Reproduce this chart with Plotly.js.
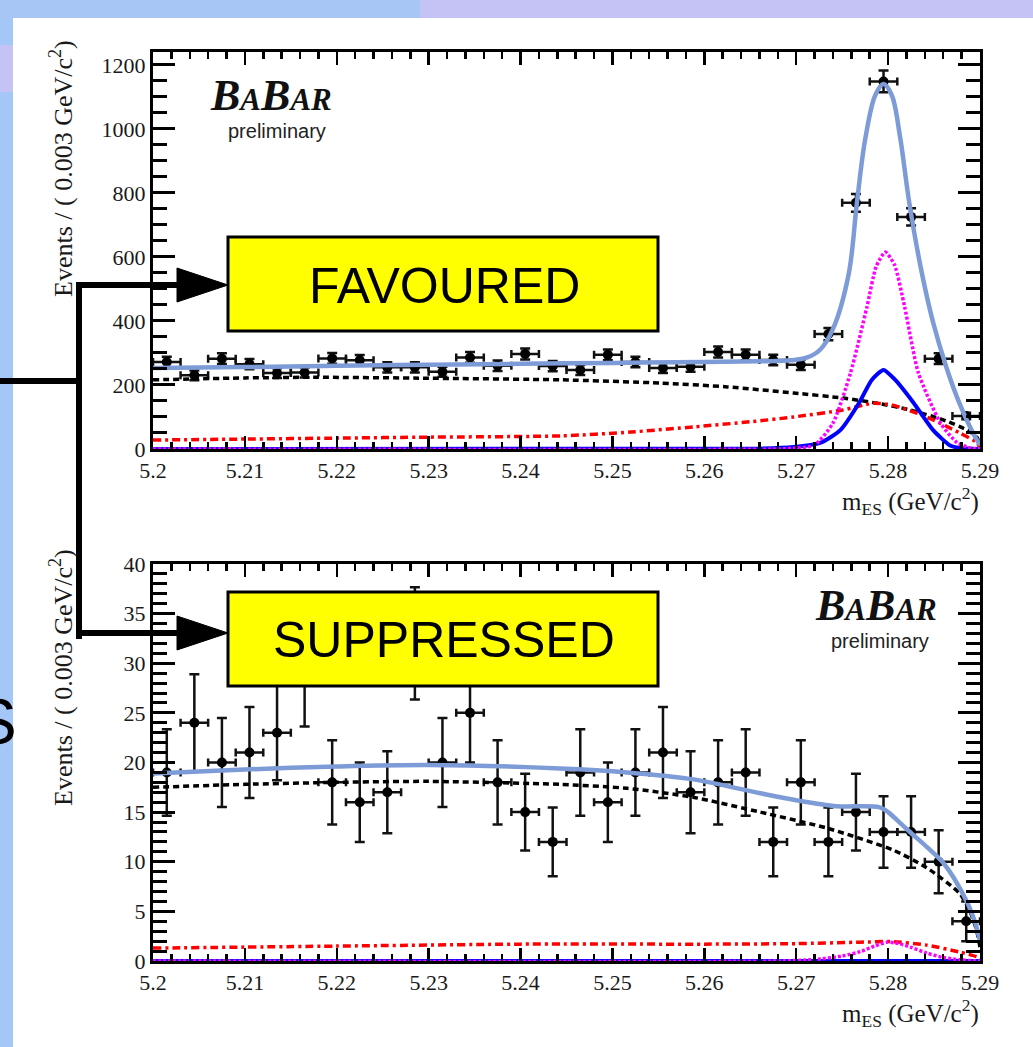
<!DOCTYPE html>
<html><head><meta charset="utf-8">
<script src="https://cdn.plot.ly/plotly-3.0.1.min.js"></script>
<style>html,body{margin:0;padding:0;background:#fff;overflow:hidden}#chart{width:1033px;height:1047px}</style>
</head><body><div id="chart"></div>
<script>
// ---- data ----
const binCenters = [5.2015,5.2045,5.2075,5.2105,5.2135,5.2165,5.2195,5.2225,5.2255,5.2285,5.2315,5.2345,5.2375,5.2405,5.2435,5.2465,5.2495,5.2525,5.2555,5.2585,5.2615,5.2645,5.2675,5.2705,5.2735,5.2765,5.2795,5.2825,5.2855,5.2885];
const favouredCounts = [272,230,282,265,237,239,283,277,255,255,241,286,260,297,259,247,294,272,253,257,303,294,278,263,359,769,1148,725,282,103];
const suppressedCounts = [19,24,20,21,23,29,18,16,17,32,20,25,18,15,12,19,16,19,21,17,18,19,12,18,12,15,13,13,10,4];

const favTotalX = [5.200,5.210,5.220,5.230,5.240,5.250,5.260,5.266,5.2695,5.2712,5.2726,5.2740,5.2757,5.2766,5.2775,5.2786,5.2795,5.2804,5.2813,5.2823,5.2836,5.2849,5.2864,5.2878,5.2891,5.2900];
const favTotalY = [253,256,260,263,266,269,272,274,277,286,310,375,545,768,966,1105,1140,1105,975,770,560,395,250,140,58,12];
const favArgusX = [5.200,5.210,5.218,5.230,5.2445,5.2552,5.2625,5.2697,5.2751,5.2788,5.2824,5.2860,5.2886,5.2897,5.2900];
const favArgusY = [216,222,224,221,216,206,194,175,159,143,122,91,59,35,0];
const favPeakingBkgX = [5.200,5.210,5.220,5.230,5.2445,5.2520,5.2588,5.2650,5.2697,5.2751,5.2784,5.2805,5.2842,5.2878,5.2897,5.2900];
const favPeakingBkgY = [28,31,34,37,41,53,69,85,100,122,143,137,100,50,19,0];
const favSignalAX = [5.200,5.268,5.2700,5.2720,5.2740,5.2759,5.2777,5.2787,5.2797,5.2807,5.2818,5.2833,5.2857,5.2875,5.2890,5.2900];
const favSignalAY = [0,0,3,12,81,237,444,570,615,575,444,237,81,20,3,0];
const favSignalBX = [5.200,5.266,5.2697,5.2726,5.2748,5.2769,5.2782,5.2795,5.2808,5.2827,5.2849,5.2867,5.2878,5.2900];
const favSignalBY = [0,1,6,19,59,147,215,247,215,147,59,12,3,0];

const supTotalX = [5.200,5.210,5.220,5.230,5.2443,5.2516,5.2588,5.2661,5.2700,5.2744,5.2790,5.2800,5.2812,5.2825,5.2842,5.2858,5.2870,5.2880,5.2888,5.2895,5.2900];
const supTotalY = [18.9,19.3,19.6,19.75,19.4,19.0,18.3,16.9,16.2,15.6,15.5,15.0,14.0,12.9,11.5,10.1,8.6,7.0,5.5,3.8,2.0];
const supArgusX = [5.200,5.210,5.220,5.230,5.2443,5.2516,5.2588,5.2661,5.2733,5.2805,5.2842,5.2878,5.2889,5.2896,5.2900];
const supArgusY = [17.5,17.8,18.0,18.1,17.8,17.4,16.5,15.0,13.4,11.2,9.4,6.8,5.0,3.2,1.4];
const supPeakingBkgX = [5.200,5.220,5.240,5.260,5.2700,5.2770,5.2805,5.2842,5.2878,5.2897,5.2900];
const supPeakingBkgY = [1.3,1.5,1.7,1.7,1.75,1.9,1.95,1.6,0.9,0.4,0.1];
const supSignalAX = [5.200,5.268,5.2720,5.2750,5.2770,5.2785,5.2799,5.2812,5.2824,5.2842,5.2860,5.2880,5.2900];
const supSignalAY = [0,0,0.15,0.5,0.95,1.5,1.9,1.75,1.4,0.8,0.35,0.1,0];
const supSignalBX = [5.200,5.290];
const supSignalBY = [0,0];

const xTickVals = [5.2,5.21,5.22,5.23,5.24,5.25,5.26,5.27,5.28,5.29];
const xTickLabels = ['5.2','5.21','5.22','5.23','5.24','5.25','5.26','5.27','5.28','5.29'];

// ---- geometry helpers ----
const W = 1033, H = 1047;
const PX = v => v / W;
const PY = v => 1 - v / H;

const serif = 'Liberation Serif, Times New Roman, serif';
const sans = 'Liberation Sans, Arial, sans-serif';

function dataTrace(x, y, xa, ya) {
  return {x, y, xaxis: xa, yaxis: ya, type: 'scatter', mode: 'markers',
    marker: {color: '#000', size: 10},
    error_y: {type: 'sqrt', color: '#111', thickness: 2.5, width: 5},
    error_x: {type: 'constant', value: 0.0015, color: '#111', thickness: 2.5, width: 4},
    hoverinfo: 'skip'};
}
function curve(x, y, xa, ya, color, width, dash, sm) {
  return {x, y, xaxis: xa, yaxis: ya, type: 'scatter', mode: 'lines',
    line: {color, width, dash, shape: 'spline', smoothing: sm || 0.6}, hoverinfo: 'skip'};
}

const traces = [
  dataTrace(binCenters, favouredCounts, 'x', 'y'),
  curve(favArgusX, favArgusY, 'x', 'y', '#000000', 3.5, '6px,4px'),
  curve(favPeakingBkgX, favPeakingBkgY, 'x', 'y', '#ff0000', 3.5, '8px,4px,3px,4px'),
  curve(favSignalBX, favSignalBY, 'x', 'y', '#0000ff', 4, 'solid'),
  curve(favSignalAX, favSignalAY, 'x', 'y', '#ff00ff', 3.5, '3px,2px'),
  curve(favTotalX, favTotalY, 'x', 'y', '#7d9bd7', 4.5, 'solid', 1.0),

  dataTrace(binCenters, suppressedCounts, 'x2', 'y2'),
  curve(supArgusX, supArgusY, 'x2', 'y2', '#000000', 3.5, '6px,4px'),
  curve(supPeakingBkgX, supPeakingBkgY, 'x2', 'y2', '#ff0000', 3.5, '8px,4px,3px,4px'),
  curve(supSignalBX, supSignalBY, 'x2', 'y2', '#0000ff', 4, 'solid'),
  curve(supSignalAX, supSignalAY, 'x2', 'y2', '#ff00ff', 3.5, '3px,2px'),
  curve(supTotalX, supTotalY, 'x2', 'y2', '#7d9bd7', 4.5, 'solid', 0.8)
];

function xAxis(anchor) {
  return {domain: [PX(153), PX(980)], range: [5.2, 5.29], anchor,
    showline: true, linecolor: '#000', linewidth: 3, mirror: 'allticks',
    ticks: 'inside', ticklen: 13, tickwidth: 2.5, tickcolor: '#000',
    tickmode: 'array', tickvals: xTickVals, ticktext: xTickLabels,
    minor: {tickmode: 'linear', tick0: 5.2, dtick: 0.002, ticks: 'inside', ticklen: 7, tickwidth: 2.5, tickcolor: '#000'},
    showgrid: false, zeroline: false, fixedrange: true,
    tickfont: {family: serif, size: 22, color: '#1a1a1a'}};
}
function yAxis(anchor, dom, range, dtick, mdtick) {
  return {domain: dom, range, anchor,
    showline: true, linecolor: '#000', linewidth: 3, mirror: 'allticks',
    ticks: 'inside', ticklen: 22, tickwidth: 3, tickcolor: '#000',
    tickmode: 'linear', tick0: 0, dtick,
    minor: {tickmode: 'linear', tick0: 0, dtick: mdtick, ticks: 'inside', ticklen: 14, tickwidth: 3, tickcolor: '#000'},
    showgrid: false, zeroline: false, fixedrange: true,
    tickfont: {family: serif, size: 22, color: '#1a1a1a'}};
}

function rect(x0, y0, x1, y1, fill, layer, line) {
  return {type: 'rect', xref: 'paper', yref: 'paper', x0: PX(x0), x1: PX(x1), y0: PY(y1), y1: PY(y0),
    fillcolor: fill, line: line || {width: 0}, layer: layer || 'below'};
}
function seg(x0, y0, x1, y1, w) {
  return {type: 'line', xref: 'paper', yref: 'paper', x0: PX(x0), y0: PY(y0), x1: PX(x1), y1: PY(y1),
    line: {color: '#000', width: w}, layer: 'above'};
}
function tri(xb, yc, xt, half) {
  return {type: 'path', xref: 'paper', yref: 'paper', layer: 'above',
    path: `M ${PX(xb)},${PY(yc - half)} L ${PX(xt)},${PY(yc)} L ${PX(xb)},${PY(yc + half)} Z`,
    fillcolor: '#000', line: {color: '#000', width: 1}};
}

const shapes = [
  rect(0, 0, 420, 18, '#a7c6f6'),
  rect(420, 0, 1033, 18, '#c5c3f6'),
  rect(0, 18, 13, 1047, '#a5c7f7'),
  rect(0, 45, 13, 92, '#c5c3f6'),
  rect(228, 237, 658, 331, '#ffff00', 'above', {color: '#000', width: 3}),
  rect(228, 592, 658, 686, '#ffff00', 'above', {color: '#000', width: 3}),
  seg(0, 381, 82, 381, 6),
  seg(79, 282, 79, 639, 6),
  seg(79, 285, 180, 285, 6),
  seg(79, 633, 180, 633, 6),
  tri(177, 285, 228, 17),
  tri(177, 633, 228, 17)
];

const babar = '<b><i>B<span style="font-size:31px">A</span>B<span style="font-size:31px">AR</span></i></b>';
const ytitle = 'Events / ( 0.003 GeV/c<sup>2</sup>)';
const xtitle = 'm<sub>ES</sub> (GeV/c<sup>2</sup>)';
function ann(text, x, y, font, extra) {
  return Object.assign({text, xref: 'paper', yref: 'paper', x: PX(x), y: PY(y), xanchor: 'center', yanchor: 'middle',
    showarrow: false, font}, extra || {});
}
const annotations = [
  ann(babar, 271, 95, {family: serif, size: 44, color: '#111'}),
  ann('preliminary', 277, 131, {family: sans, size: 20, color: '#222'}),
  ann(babar, 876, 605, {family: serif, size: 44, color: '#111'}),
  ann('preliminary', 880, 641, {family: sans, size: 20, color: '#222'}),
  ann(ytitle, 61, 169, {family: serif, size: 26, color: '#1a1a1a'}, {textangle: -90}),
  ann(ytitle, 61, 678, {family: serif, size: 26, color: '#1a1a1a'}, {textangle: -90}),
  ann(xtitle, 910, 501, {family: serif, size: 25, color: '#1a1a1a'}),
  ann(xtitle, 910, 1013, {family: serif, size: 25, color: '#1a1a1a'}),
  ann('FAVOURED', 444, 286, {family: sans, size: 50, color: '#000'}),
  ann('SUPPRESSED', 444, 640, {family: sans, size: 50, color: '#000'}),
  ann('S', -5, 722, {family: sans, size: 64, color: '#000'})
];

const layout = {
  width: W, height: H,
  margin: {l: 0, r: 0, t: 0, b: 0, pad: 0},
  paper_bgcolor: '#ffffff', plot_bgcolor: '#ffffff',
  showlegend: false,
  xaxis: xAxis('y'),
  yaxis: yAxis('x', [PY(449), PY(52)], [0, 1240], 200, 50),
  xaxis2: xAxis('y2'),
  yaxis2: yAxis('x2', [PY(961), PY(564)], [0, 40], 5, 1),
  shapes, annotations
};

Plotly.newPlot('chart', traces, layout, {displayModeBar: false, staticPlot: true});
</script>
</body></html>
